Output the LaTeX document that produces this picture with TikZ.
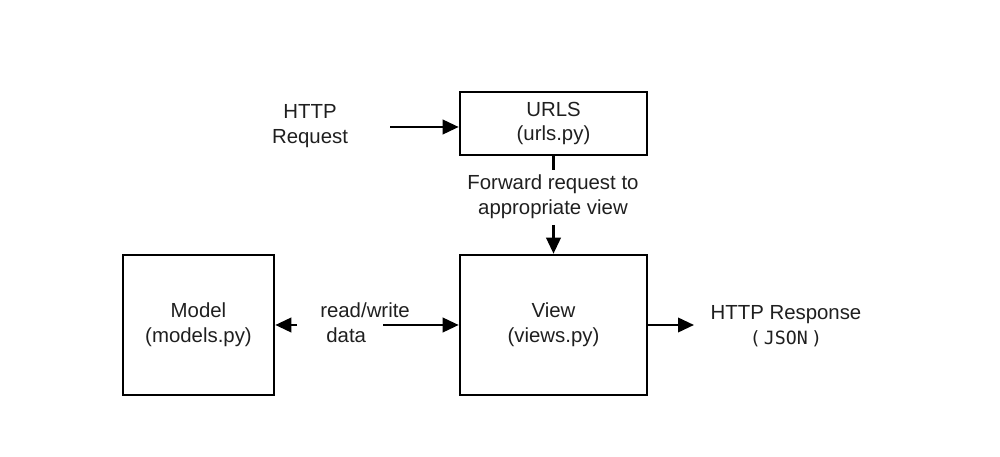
\documentclass[tikz,border=0pt]{standalone}
\usepackage{fontspec}
\setmainfont{Liberation Sans}
\newfontfamily\jsonfont{DejaVu Sans Mono}
\usetikzlibrary{arrows.meta}
\newcommand{\linecol}{black}
\newcommand{\textcol}{black!88}
\tikzset{
  box/.style={draw=\linecol, line width=1.8pt, inner sep=0pt, align=center, text=\textcol},
  lbl/.style={inner sep=0pt, text=\textcol},
  flow/.style={draw=\linecol, line width=1.8pt, -{Triangle[length=0.4cm, width=0.36cm]}},
}

\begin{document}
\begin{tikzpicture}[x=0.025cm, y=-0.025cm, font=\fontsize{14.5}{17.5}\selectfont]

    \useasboundingbox (0, 0) rectangle (1000, 457);

    \node[box, minimum width=4.675cm, minimum height=1.575cm] (urls) at (553.5, 123.5) {URLS\\(urls.py)};
    \node[box, minimum width=4.675cm, minimum height=3.5cm] (view) at (553.5, 325) {View\\(views.py)};
    \node[box, minimum width=3.775cm, minimum height=3.5cm] (model) at (198.5, 325) {Model\\(models.py)};

    \node[lbl, align=center] (req) at (310, 126) {HTTP\\Request};
    \node[lbl, align=center] (fwd) at (553, 197) {Forward request to\\appropriate view};
    \node[lbl, align=left, anchor=west] (rw) at (320, 323) {read/write\\\hspace{0.3em}data};
    \node[lbl, align=center] (resp) at (786, 326) {HTTP Response\\{\jsonfont\fontsize{13}{17.5}\selectfont (\,JSON\,)}};

    \coordinate (reqend) at (390, 127);
    \coordinate (fwdtop) at (553.5, 170);
    \coordinate (fwdbot) at (553.5, 225);
    \coordinate (rwleft) at (297, 325);
    \coordinate (rwright) at (383, 325);
    \coordinate (respend) at (694, 325);

    \draw[flow] (reqend) -- (urls.west |- reqend);
    \draw[draw=\linecol, line width=1.8pt] (urls.south) -- (fwdtop);
    \draw[flow] (fwdbot) -- (view.north);
    \draw[flow] (rwleft) -- (model.east);
    \draw[flow] (rwright) -- (view.west);
    \draw[flow] (view.east) -- (respend);

\end{tikzpicture}
\end{document}
